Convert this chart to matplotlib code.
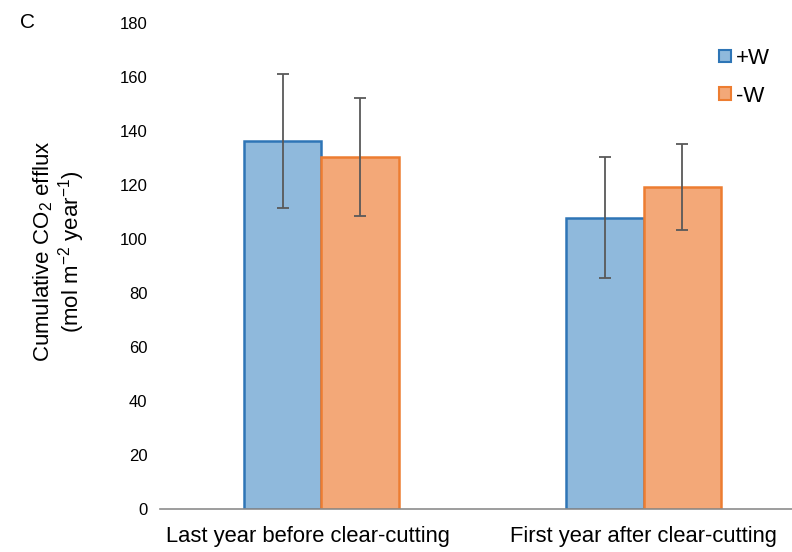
import matplotlib.pyplot as plt
import matplotlib.transforms as mtransforms
import numpy as np
from matplotlib.patches import Patch

plt.rcParams['font.family'] = ['Liberation Sans', 'DejaVu Sans']
plt.rcParams['mathtext.default'] = 'regular'

# data
categories = ["Last year before clear-cutting", "First year after clear-cutting"]
plus_w = [136.3, 107.8]
plus_w_err = [24.8, 22.4]
minus_w = [130.4, 119.3]
minus_w_err = [21.8, 15.8]

blue_face = "#8fb9dc"
blue_edge = "#2e75b6"
orange_face = "#f3a878"
orange_edge = "#ed7d31"

fig = plt.figure(figsize=(7.92, 5.52), dpi=100)
ax = fig.add_axes([160 / 792, 43 / 552, 1 - 160 / 792, 486 / 552])

x = np.arange(len(categories))
w = 0.24
err_kw = dict(ecolor="#595959", elinewidth=1.3, capsize=4, capthick=1.3)
ax.bar(x - w / 2, plus_w, w, yerr=plus_w_err, color=blue_face,
       edgecolor=blue_edge, linewidth=1.8, error_kw=err_kw)
ax.bar(x + w / 2, minus_w, w, yerr=minus_w_err, color=orange_face,
       edgecolor=orange_edge, linewidth=1.8, error_kw=err_kw)

ax.set_xlim(-0.5, 1.46)
ax.set_ylim(0, 180)
ax.set_yticks(range(0, 181, 20))
ax.set_xticks(x)
ax.set_xticklabels(categories, fontsize=15.8)
ax.tick_params(axis="y", labelsize=12, length=0, pad=9)
ax.tick_params(axis="x", length=0, pad=12)

# first category label sits a little left of its bars, as in the original
lbl = ax.get_xticklabels()[0]
lbl.set_transform(lbl.get_transform() + mtransforms.ScaledTranslation(-13 / 100, 0, fig.dpi_scale_trans))

for s in ["top", "right", "left"]:
    ax.spines[s].set_visible(False)
ax.spines["bottom"].set_color("#8c8c8c")
ax.spines["bottom"].set_linewidth(1.2)

ax.set_ylabel("Cumulative CO$_2$ efflux\n(mol m$^{-2}$ year$^{-1}$)", fontsize=16,
              linespacing=1.05)
ax.yaxis.set_label_coords(-0.116, 0.53)

fig.text(20 / 792, 1 - 22 / 552, "C", fontsize=15, va="center", ha="left")

handles = [Patch(facecolor=blue_face, edgecolor=blue_edge, linewidth=1.5, label="+W"),
           Patch(facecolor=orange_face, edgecolor=orange_edge, linewidth=1.5, label="-W")]
ax.legend(handles=handles, loc="upper right", bbox_to_anchor=(0.997, 0.99),
          frameon=False, fontsize=16, handlelength=0.5, handleheight=0.5,
          handletextpad=0.25, labelspacing=0.75)

fig.savefig("out.png", dpi=100)
